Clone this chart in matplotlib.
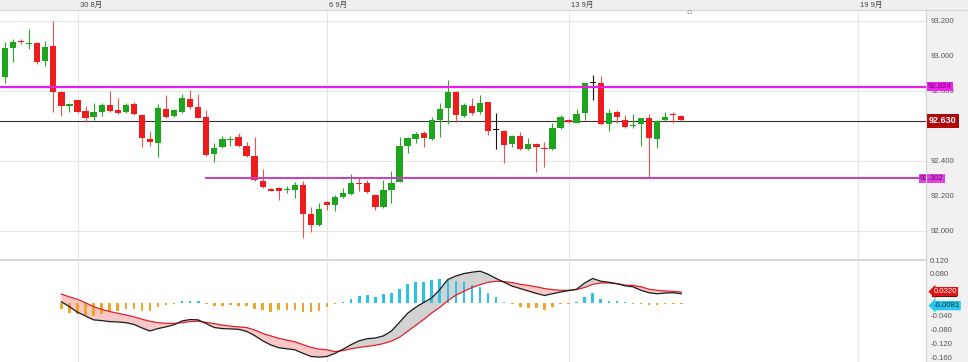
import matplotlib
matplotlib.use("Agg")
from matplotlib import pyplot as plt
from matplotlib.patches import Rectangle
from matplotlib.lines import Line2D
import matplotlib.transforms as mtransforms
import numpy as np

plt.rcParams['font.family'] = ['Liberation Sans', 'Noto Sans CJK SC', 'DejaVu Sans']

# 4H candles
opens = [92.878, 92.878, 93.044, 93.084, 93.069, 93.074, 92.971, 93.057, 92.792, 92.712,
         92.747, 92.684, 92.649, 92.682, 92.718, 92.689, 92.678, 92.726, 92.663, 92.526,
         92.505, 92.695, 92.657, 92.682, 92.754, 92.707, 92.651, 92.440, 92.480, 92.518,
         92.535, 92.486, 92.428, 92.286, 92.242, 92.245, 92.234, 92.236, 92.261, 92.097,
         92.034, 92.166, 92.149, 92.196, 92.211, 92.276, 92.272, 92.206, 92.139, 92.236,
         92.282, 92.488, 92.528, 92.558, 92.526, 92.634, 92.703, 92.796, 92.659, 92.714,
         92.678, 92.735, 92.577, 92.571, 92.497, 92.543, 92.471, 92.499, 92.474, 92.469,
         92.587, 92.632, 92.619, 92.676, 92.848, 92.844, 92.609, 92.678, 92.632, 92.598,
         92.609, 92.644, 92.526, 92.632, 92.666, 92.657]
closes = [92.986, 93.044, 93.082, 93.080, 93.072, 92.964, 93.051, 92.796, 92.716, 92.726,
          92.682, 92.647, 92.678, 92.718, 92.688, 92.674, 92.720, 92.666, 92.530, 92.508,
          92.701, 92.651, 92.689, 92.760, 92.707, 92.647, 92.432, 92.473, 92.526, 92.524,
          92.486, 92.430, 92.291, 92.249, 92.230, 92.230, 92.238, 92.263, 92.097, 92.034,
          92.126, 92.149, 92.192, 92.215, 92.272, 92.270, 92.225, 92.139, 92.234, 92.272,
          92.486, 92.530, 92.552, 92.530, 92.632, 92.695, 92.792, 92.663, 92.720, 92.674,
          92.730, 92.571, 92.577, 92.492, 92.543, 92.467, 92.495, 92.482, 92.467, 92.587,
          92.649, 92.625, 92.666, 92.844, 92.848, 92.609, 92.676, 92.649, 92.596, 92.606,
          92.644, 92.533, 92.628, 92.649, 92.663, 92.636]
highs = [92.995, 93.082, 93.097, 93.097, 93.152, 93.078, 93.086, 93.200, 92.800, 92.730,
         92.750, 92.714, 92.730, 92.730, 92.800, 92.758, 92.730, 92.735, 92.666, 92.573,
         92.724, 92.775, 92.695, 92.781, 92.806, 92.783, 92.689, 92.501, 92.545, 92.545,
         92.558, 92.507, 92.537, 92.354, 92.245, 92.249, 92.255, 92.282, 92.288, 92.135,
         92.158, 92.171, 92.206, 92.244, 92.324, 92.301, 92.291, 92.209, 92.291, 92.345,
         92.535, 92.539, 92.568, 92.571, 92.653, 92.730, 92.863, 92.800, 92.730, 92.762,
         92.777, 92.739, 92.672, 92.577, 92.549, 92.568, 92.530, 92.503, 92.507, 92.615,
         92.663, 92.638, 92.695, 92.848, 92.891, 92.886, 92.695, 92.691, 92.663, 92.666,
         92.647, 92.666, 92.632, 92.682, 92.682, 92.661]
lows = [92.870, 92.844, 92.968, 93.067, 93.038, 92.956, 92.945, 92.682, 92.657, 92.682,
        92.672, 92.621, 92.634, 92.657, 92.678, 92.668, 92.672, 92.663, 92.482, 92.486,
        92.425, 92.647, 92.653, 92.676, 92.697, 92.647, 92.427, 92.396, 92.473, 92.486,
        92.478, 92.425, 92.288, 92.244, 92.228, 92.177, 92.215, 92.187, 91.958, 91.996,
        92.030, 92.120, 92.114, 92.187, 92.206, 92.228, 92.215, 92.118, 92.133, 92.158,
        92.278, 92.444, 92.501, 92.482, 92.520, 92.539, 92.609, 92.621, 92.653, 92.663,
        92.666, 92.549, 92.469, 92.390, 92.482, 92.463, 92.465, 92.335, 92.367, 92.463,
        92.583, 92.619, 92.615, 92.634, 92.749, 92.606, 92.571, 92.615, 92.587, 92.587,
        92.486, 92.305, 92.476, 92.628, 92.615, 92.628]

# MACD panel, starts at candle 8
macd_start = 8
macd_line = [0.003, -0.011, -0.027, -0.038, -0.049, -0.051, -0.054, -0.055, -0.057, -0.062,
             -0.072, -0.081, -0.074, -0.069, -0.063, -0.052, -0.048, -0.049, -0.060, -0.071,
             -0.074, -0.075, -0.076, -0.082, -0.094, -0.109, -0.121, -0.129, -0.132, -0.135,
             -0.145, -0.154, -0.156, -0.154, -0.145, -0.133, -0.120, -0.109, -0.103, -0.101,
             -0.095, -0.081, -0.056, -0.030, -0.013, 0.001, 0.014, 0.038, 0.067, 0.077,
             0.084, 0.088, 0.091, 0.082, 0.070, 0.059, 0.048, 0.041, 0.034, 0.027,
             0.021, 0.026, 0.031, 0.035, 0.039, 0.057, 0.070, 0.062, 0.059, 0.055,
             0.049, 0.046, 0.036, 0.029, 0.026, 0.028, 0.029, 0.026]
signal_line = [0.025, 0.017, 0.010, 0.000, -0.011, -0.019, -0.025, -0.030, -0.035, -0.040,
               -0.047, -0.053, -0.057, -0.059, -0.059, -0.057, -0.054, -0.053, -0.056, -0.060,
               -0.064, -0.067, -0.069, -0.071, -0.078, -0.088, -0.095, -0.102, -0.107, -0.112,
               -0.120, -0.128, -0.133, -0.135, -0.140, -0.137, -0.132, -0.128, -0.125, -0.122,
               -0.117, -0.110, -0.099, -0.082, -0.065, -0.048, -0.029, -0.013, 0.006, 0.022,
               0.033, 0.044, 0.052, 0.059, 0.062, 0.061, 0.058, 0.053, 0.050, 0.046,
               0.041, 0.038, 0.036, 0.036, 0.038, 0.044, 0.053, 0.057, 0.057, 0.055,
               0.051, 0.050, 0.046, 0.039, 0.036, 0.034, 0.033, 0.031]
hist = [-0.019, -0.029, -0.032, -0.035, -0.038, -0.031, -0.026, -0.024, -0.019, -0.019,
        -0.024, -0.024, -0.012, -0.005, -0.002, 0.005, 0.006, 0.005, -0.004, -0.008,
        -0.008, -0.007, -0.008, -0.010, -0.018, -0.022, -0.026, -0.022, -0.020, -0.020,
        -0.025, -0.026, -0.023, -0.013, -0.002, 0.002, 0.012, 0.020, 0.022, 0.017,
        0.024, 0.027, 0.041, 0.055, 0.060, 0.060, 0.065, 0.067, 0.067, 0.063,
        0.060, 0.050, 0.046, 0.029, 0.017, 0.002, -0.002, -0.011, -0.016, -0.016,
        -0.021, -0.011, -0.003, -0.002, 0.003, 0.017, 0.027, 0.012, 0.005, 0.004,
        0.001, -0.002, -0.003, -0.007, -0.006, -0.004, -0.004, -0.003]

date_labels = ['30 8月', '6 9月', '13 9月', '19 9月']
date_pos = [10, 41, 71, 107]
price_ticks = [93.2, 93.0, 92.8, 92.6, 92.4, 92.2, 92.0]
price_grid = [93.2, 92.8, 92.4, 92.0]
# 0.040 and 0.000 sit under the value flags, so only these show
macd_ticks = [0.12, 0.08, -0.04, -0.08, -0.12, -0.16]
resist_level = 92.824
support_level = 92.302
support_from = 26
last_price = 92.630
signal_last = 0.0320
macd_last = 0.0220
hist_last = -0.0081

W, H = 968, 362
fig = plt.figure(figsize=(W / 100, H / 100), dpi=100)
fig.patch.set_facecolor('white')

ax = fig.add_axes([0, (H - 258) / H, 926 / W, 248 / H])
ax2 = fig.add_axes([0, 0, 926 / W, 102 / H])

# header strip and right axis column
fig.add_artist(Rectangle((0, (H - 9.5) / H), 1, 9.5 / H, transform=fig.transFigure,
                         fc='#efefef', ec='none', zorder=0))
fig.add_artist(Line2D([0, 1], [(H - 9.5) / H] * 2, transform=fig.transFigure,
                      color='#d4d4d4', lw=0.8))
fig.add_artist(Rectangle((926 / W, 0), 42 / W, (H - 9.5) / H, transform=fig.transFigure,
                         fc='#f1f1f1', ec='none', zorder=0))
fig.add_artist(Line2D([926 / W] * 2, [0, (H - 9.5) / H], transform=fig.transFigure,
                      color='#d0d0d0', lw=0.8))
fig.add_artist(Line2D([0, 926 / W], [(H - 259.5) / H] * 2, transform=fig.transFigure,
                      color='#d8d8d8', lw=1.4))

x = np.arange(len(opens))
o = np.array(opens)
c = np.array(closes)
colors = np.where(c > o, '#1ea51e', np.where(c < o, '#ee1c1c', '#111111'))
wick_colors = np.where(c > o, '#2aa82a', np.where(c < o, '#f05050', '#111111'))

for a in (ax, ax2):
    a.set_facecolor('none')
    for s in a.spines.values():
        s.set_visible(False)
    a.set_xticks([])
    a.set_yticks([])
    a.set_xlim(0.373, 115.4)
    for p in date_pos:
        a.axvline(p, color='#e4e4e4', lw=0.8, zorder=0)

# price panel
ax.set_ylim(91.846, 93.263)
for g in price_grid:
    ax.axhline(g, color='#e6e6e6', lw=0.8, zorder=0)

ax.vlines(x, lows, highs, colors=wick_colors, lw=0.8, zorder=2)
bottoms = np.minimum(o, c)
heights = np.maximum(np.abs(c - o), 0.004)
ax.bar(x, heights, bottom=bottoms, width=0.78, color=colors, lw=0, zorder=3)

ax.axhline(resist_level, color='#e81ee8', lw=1.6, zorder=4)
ax.plot([support_from, 114.5], [support_level] * 2, color='#c83cc8', lw=1.4, zorder=4)
ax.axhline(last_price, color='#333333', lw=0.8, zorder=1)

ytr = ax.get_yaxis_transform()
for t in price_ticks:
    ax.text(1.0045, t, f'{t:.3f}', transform=ytr, fontsize=5.6, color='#555555',
            ha='left', va='center', clip_on=False)
ax.text(1.0015, resist_level, f'{resist_level:.3f}', transform=ytr, fontsize=5.6, color='#6a006a',
        ha='left', va='center', clip_on=False,
        bbox=dict(boxstyle='square,pad=0.15', fc='#ee22ee', ec='none'))
ax.text(0.9935, support_level, f'{support_level:.3f}', transform=ytr, fontsize=5.6, color='#6a006a',
        ha='left', va='center', clip_on=False,
        bbox=dict(boxstyle='square,pad=0.15', fc='#dd44dd', ec='none'))
ax.text(1.003, last_price, f'{last_price:.3f}', transform=ytr, fontsize=6.5, color='white',
        fontweight='bold', ha='left', va='center', clip_on=False,
        bbox=dict(boxstyle='square,pad=0.25', fc='#b00808', ec='none'))

# date labels in the header
htr = mtransforms.blended_transform_factory(ax.transData, fig.transFigure)
for p, lab in zip(date_pos, date_labels):
    ax.text(p + 0.25, (H - 5) / H, lab, transform=htr, fontsize=5.5, color='#444444',
            ha='left', va='center', clip_on=False)
fig.text(689 / W, (H - 12) / H, '⌂', fontsize=6, color='#9a9a9a', ha='center', va='center',
         family='DejaVu Sans')

# MACD panel
ax2.set_ylim(-0.170, 0.123)
xm = np.arange(macd_start, macd_start + len(macd_line))
m = np.array(macd_line)
sg = np.array(signal_line)
hv = np.array(hist)
ax2.fill_between(xm, m, sg, where=m >= sg, interpolate=True, color='#d2d2d2', lw=0, zorder=1)
ax2.fill_between(xm, m, sg, where=m < sg, interpolate=True, color='#f8c8c8', lw=0, zorder=1)
hcol = np.where(hv >= 0, '#2cc4e4', '#efa52a')
hh = np.where(np.abs(hv) < 0.0025, np.sign(hv + 1e-9) * 0.0025, hv)
ax2.bar(xm, hh, width=0.32, color=hcol, lw=0, zorder=2)
ax2.plot(xm, sg, color='#e0202a', lw=0.9, zorder=3)
ax2.plot(xm, m, color='#1a1a1a', lw=0.9, zorder=4)

ytr2 = ax2.get_yaxis_transform()
for t in macd_ticks:
    ax2.text(1.0045, t, f'{t:.3f}', transform=ytr2, fontsize=5.6, color='#555555',
             ha='left', va='center', clip_on=False)
# MACD flag mostly hidden behind the signal flag: just its dark edge shows
ax2.add_patch(Rectangle((1.006, macd_last - 0.006), 0.028, 0.012, transform=ytr2,
                        fc='#111111', ec='none', clip_on=False, zorder=5))
ax2.text(1.008, signal_last, f'{signal_last:.4f}', transform=ytr2, fontsize=5.6, color='white',
         ha='left', va='center', clip_on=False, zorder=6,
         bbox=dict(boxstyle='larrow,pad=0.15', fc='#e01414', ec='none'))
ax2.text(1.008, hist_last, f'{hist_last:.4f}', transform=ytr2, fontsize=5.6, color='#10304a',
         ha='left', va='center', clip_on=False, zorder=6,
         bbox=dict(boxstyle='larrow,pad=0.15', fc='#26c8ec', ec='none'))

fig.savefig('out.png', dpi=100)
